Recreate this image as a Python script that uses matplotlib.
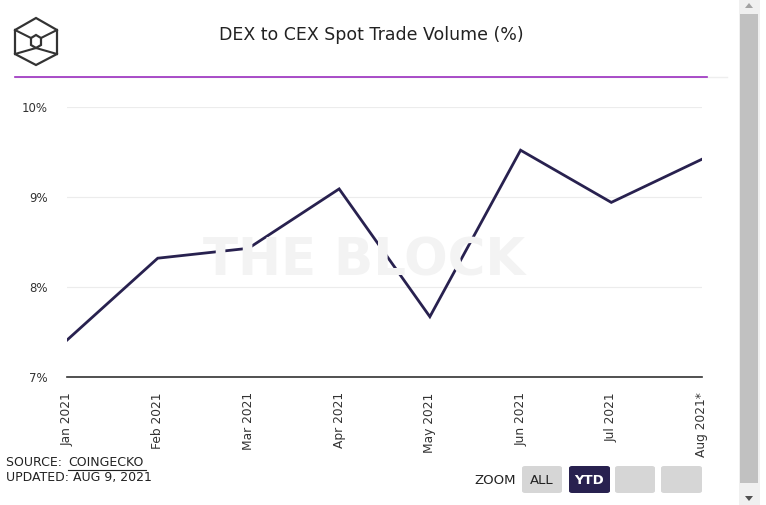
import matplotlib

matplotlib.use("Agg")
import matplotlib.pyplot as plt
from matplotlib.patches import Rectangle, Polygon, FancyBboxPatch

months = ["Jan 2021", "Feb 2021", "Mar 2021", "Apr 2021", "May 2021", "Jun 2021", "Jul 2021", "Aug 2021*"]
dex_share = [7.41, 8.32, 8.43, 9.09, 7.67, 9.52, 8.94, 9.42]
y_ticks = [7, 8, 9, 10]
y_labels = ["7%", "8%", "9%", "10%"]

W, H = 766, 505
fig = plt.figure(figsize=(W / 100, H / 100), dpi=100)
fig.patch.set_facecolor("white")


def fx(px):
    return px / W


def fy(py):
    return 1 - py / H


ax = fig.add_axes([fx(67), fy(377), fx(702) - fx(67), fy(107) - fy(377)])
x = list(range(len(months)))
ax.plot(x, dex_share, color="#28214f", linewidth=2, zorder=3, solid_joinstyle="miter")
ax.set_xlim(0, len(months) - 1)
ax.set_ylim(7, 10)
ax.set_yticks(y_ticks)
ax.set_yticklabels(y_labels, fontsize=8.5, color="#333333")
ax.set_xticks(x)
ax.set_xticklabels(months, rotation=90, fontsize=8.8, color="#333333")
ax.tick_params(axis="both", length=0, pad=11)
ax.tick_params(axis="y", pad=14)
for s in ["top", "right", "left"]:
    ax.spines[s].set_visible(False)
ax.spines["bottom"].set_color("#333333")
ax.spines["bottom"].set_linewidth(1.2)
ax.grid(axis="y", color="#ececec", linewidth=0.8)
ax.set_axisbelow(True)

# watermark
fig.text(fx(364), fy(262), "THE BLOCK", fontsize=37, fontweight="bold", color="#f3f3f3",
         ha="center", va="center", zorder=0)

# title and header line
fig.text(fx(371), fy(35), "DEX to CEX Spot Trade Volume (%)", fontsize=12.5, ha="center",
         va="center", color="#222222")
fig.add_artist(plt.Line2D([fx(15), fx(727)], [fy(77), fy(77)], color="#eeeeee", linewidth=1))
fig.add_artist(plt.Line2D([fx(15), fx(707)], [fy(77), fy(77)], color="#9b30c0", linewidth=1.2))

# logo: hexagonal cube outline
cx, cy = 36, 41
hexpts = [(cx, 18), (cx + 21, 30), (cx + 21, 54), (cx, 65), (cx - 21, 54), (cx - 21, 30)]
fig.add_artist(Polygon([(fx(a), fy(b)) for a, b in hexpts], closed=True, fill=False,
                       edgecolor="#333333", linewidth=1.6, transform=fig.transFigure))
inner = [(cx, 35), (cx + 5, 38), (cx + 5, 45), (cx, 48), (cx - 5, 45), (cx - 5, 38)]
fig.add_artist(Polygon([(fx(a), fy(b)) for a, b in inner], closed=True, fill=False,
                       edgecolor="#333333", linewidth=1.6, transform=fig.transFigure))
for (a, b), (c, d) in [((cx - 21, 30), (cx - 5, 38)), ((cx + 21, 30), (cx + 5, 38)),
                       ((cx - 21, 54), (cx, 48)), ((cx + 21, 54), (cx, 48))]:
    fig.add_artist(plt.Line2D([fx(a), fx(c)], [fy(b), fy(d)], color="#333333", linewidth=1.5))

# source text
fig.text(fx(6), fy(463), "SOURCE: ", fontsize=9, va="center", color="#222222")
fig.text(fx(68), fy(463), "COINGECKO", fontsize=9, va="center", color="#222222")
fig.add_artist(plt.Line2D([fx(68), fx(146)], [fy(470), fy(470)], color="#222222", linewidth=0.8))
fig.text(fx(6), fy(478), "UPDATED: AUG 9, 2021", fontsize=9, va="center", color="#222222")

# zoom buttons
fig.text(fx(495), fy(480), "ZOOM", fontsize=9.5, ha="center", va="center", color="#222222")
buttons = [(522, 562, "ALL", "#d6d6d6", "#222222", "normal"),
           (569, 610, "YTD", "#28214f", "white", "bold"),
           (615, 655, "", "#d6d6d6", "#222222", "normal"),
           (661, 702, "", "#d6d6d6", "#222222", "normal")]
for x0, x1, lab, bg, fg, wt in buttons:
    fig.add_artist(FancyBboxPatch((fx(x0), fy(493)), fx(x1) - fx(x0), fy(466) - fy(493),
                                  boxstyle="round,pad=0,rounding_size=0.004",
                                  facecolor=bg, edgecolor="none", transform=fig.transFigure))
    if lab:
        fig.text(fx((x0 + x1) / 2), fy(480), lab, fontsize=9.5, ha="center", va="center",
                 color=fg, fontweight=wt)

# scrollbar
fig.add_artist(Rectangle((fx(739), 0), fx(760) - fx(739), 1, facecolor="#f0f0f0",
                         edgecolor="none", transform=fig.transFigure))
fig.add_artist(Rectangle((fx(740), fy(483)), fx(758) - fx(740), fy(14) - fy(483),
                         facecolor="#c1c1c1", edgecolor="none", transform=fig.transFigure))
fig.add_artist(Polygon([(fx(745), fy(8)), (fx(753), fy(8)), (fx(749), fy(3))], closed=True,
                       facecolor="#a3a3a3", edgecolor="none", transform=fig.transFigure))
fig.add_artist(Polygon([(fx(745), fy(496)), (fx(753), fy(496)), (fx(749), fy(501))], closed=True,
                       facecolor="#505050", edgecolor="none", transform=fig.transFigure))

fig.savefig("out.png", dpi=100, facecolor="white")
